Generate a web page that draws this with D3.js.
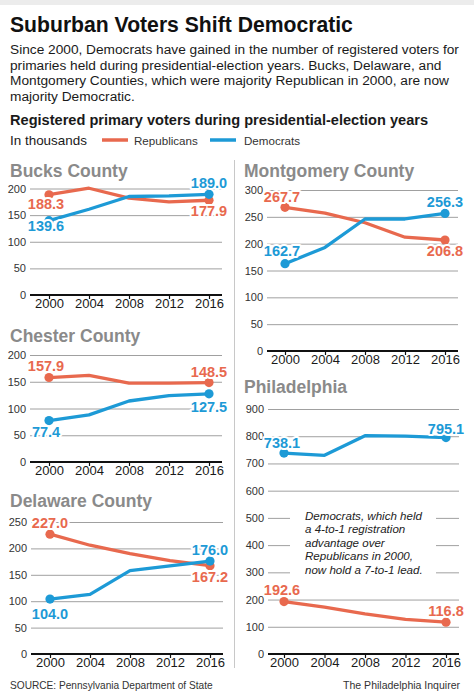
<!DOCTYPE html>
<html>
<head>
<meta charset="utf-8">
<script src="https://cdn.jsdelivr.net/npm/d3@7"></script>
<style>
  html, body { margin: 0; padding: 0; background: #fff; }
  svg { display: block; font-family: "Liberation Sans", Arial, Helvetica, sans-serif; }
</style>
</head>
<body>
<svg id="chart" width="474" height="695"></svg>
<script>
// ---------- DATA ----------
const years = [2000, 2004, 2008, 2012, 2016];
const countyNames = ["Bucks County", "Montgomery County", "Chester County", "Delaware County", "Philadelphia"];
const bucksRep = [188.3, 200.5, 182, 175, 177.9];
const bucksDem = [139.6, 161, 185, 186, 189.0];
const montgomeryRep = [267.7, 257, 239, 212, 206.8];
const montgomeryDem = [162.7, 193, 246, 246, 256.3];
const chesterRep = [157.9, 162, 147.5, 147.5, 148.5];
const chesterDem = [77.4, 88, 114, 124, 127.5];
const delawareRep = [227.0, 206, 190, 177, 167.2];
const delawareDem = [104.0, 113, 158, 167, 176.0];
const philadelphiaRep = [192.6, 172, 147, 127, 116.8];
const philadelphiaDem = [738.1, 730, 802, 800, 795.1];
const yTicksSmall = [0, 50, 100, 150, 200];
const yTicksMont = [0, 50, 100, 150, 200, 250, 300];
const yTicksDel = [0, 50, 100, 150, 200, 250];
const yTicksPhil = [0, 100, 200, 300, 400, 500, 600, 700, 800, 900];
const seriesNames = ["Republicans", "Democrats"];

const titleText = "Suburban Voters Shift Democratic";
const introLines = [
  "Since 2000, Democrats have gained in the number of registered voters for",
  "primaries held during presidential-election years. Bucks, Delaware, and",
  "Montgomery Counties, which were majority Republican in 2000, are now",
  "majority Democratic."
];
const subTitle = "Registered primary voters during presidential-election years";
const unitText = "In thousands";
const noteLines = ["Democrats, which held", "a 4-to-1 registration", "advantage over", "Republicans in 2000,", "now hold a 7-to-1 lead."];
const sourceText = "SOURCE: Pennsylvania Department of State";
const creditText = "The Philadelphia Inquirer";

// ---------- STYLE / LAYOUT ----------
const RED = "#e8694e", BLUE = "#1d9ad6";
const svg = d3.select("#chart");

// scale a text's font size so that its rendered width matches the target width
function fit(sel, target, measureNode) {
  const node = measureNode || sel.node();
  const fs = parseFloat(sel.attr("font-size"));
  const w = node.getComputedTextLength();
  if (w > 0) sel.attr("font-size", (fs * target / w).toFixed(2));
  return sel;
}

const layout = [
  {rep: bucksRep, dem: bucksDem, ticks: yTicksSmall, x: [49, 209], y: [295, 188.5], g: [30, 222], t: [10, 177],
   sx: -3, dy: {rep: [14, 16], dem: [10, -6]}},
  {rep: montgomeryRep, dem: montgomeryDem, ticks: yTicksMont, x: [285, 445], y: [351, 190], g: [267, 458], t: [244, 177],
   sx: -3, dy: {rep: [-5, 16], dem: [-8, -6]}},
  {rep: chesterRep, dem: chesterDem, ticks: yTicksSmall, x: [49, 209], y: [462, 355], g: [30, 222], t: [10, 342],
   sx: -3, dy: {rep: [-7, -6], dem: [16, 18]}},
  {rep: delawareRep, dem: delawareDem, ticks: yTicksDel, x: [50, 210], y: [654, 522], g: [31, 223], t: [10, 507],
   sx: 0, dy: {rep: [-6, 16], dem: [20, -6]}},
  {rep: philadelphiaRep, dem: philadelphiaDem, ticks: yTicksPhil, x: [284, 446], y: [654, 409], g: [268, 459], t: [244, 393],
   sx: -2, dy: {rep: [-7, -6], dem: [-5, -4]}}
];

// top shade
svg.append("rect").attr("x", 0).attr("y", 0).attr("width", 474).attr("height", 5).attr("fill", "#ececec");

// header
fit(svg.append("text").attr("x", 10).attr("y", 32).attr("font-size", 21).attr("font-weight", "bold")
  .attr("fill", "#111").text(titleText), 343);
const intro = svg.append("text").attr("font-size", 14).attr("fill", "#1a1a1a");
intro.selectAll("tspan").data(introLines).join("tspan")
  .attr("x", 10).attr("y", (d, i) => 54 + i * 15.7).text(d => d);
fit(intro, 449, intro.select("tspan").node());
fit(svg.append("text").attr("x", 10).attr("y", 125).attr("font-size", 14.6).attr("font-weight", "bold")
  .attr("fill", "#1a1a1a").text(subTitle), 418);
fit(svg.append("text").attr("x", 10).attr("y", 145).attr("font-size", 13.4).attr("fill", "#1a1a1a").text(unitText), 77);

// legend
const legendX = [[102, 128, 134], [210, 236, 244]];
[RED, BLUE].forEach((c, i) => {
  svg.append("line").attr("x1", legendX[i][0]).attr("x2", legendX[i][1]).attr("y1", 140).attr("y2", 140)
    .attr("stroke", c).attr("stroke-width", 3.5);
  svg.append("text").attr("x", legendX[i][2]).attr("y", 145).attr("font-size", 11.6).attr("fill", "#333")
    .text(seriesNames[i]);
});

// separator
svg.append("line").attr("x1", 234.5).attr("x2", 234.5).attr("y1", 160).attr("y2", 668)
  .attr("stroke", "#c8c8c8").attr("stroke-width", 1);

// panels
layout.forEach((p, idx) => {
  const g = svg.append("g");
  const x = d3.scalePoint().domain(years).range(p.x);
  const y = d3.scaleLinear().domain([0, d3.max(p.ticks)]).range(p.y);

  // title
  g.append("text").attr("x", p.t[0]).attr("y", p.t[1]).attr("font-size", 17.5).attr("font-weight", "bold")
    .attr("fill", "#8a8a8a").text(countyNames[idx]);

  // grid + y labels
  const ya = d3.axisLeft(y).tickValues(p.ticks).tickSize(-(p.g[1] - p.g[0])).tickPadding(4).tickFormat(d3.format("d"));
  const yg = g.append("g").attr("transform", `translate(${p.g[0]},0)`).call(ya);
  yg.select(".domain").remove();
  yg.selectAll(".tick line").attr("stroke", "#a0a0a0").attr("stroke-width", 1);
  yg.selectAll(".tick text").attr("font-size", 11).attr("fill", "#333").attr("font-family", null);

  // annotation box for Philadelphia
  if (idx === 4) {
    g.append("rect").attr("x", 290).attr("y", 506).attr("width", 146).attr("height", 72).attr("fill", "#fff");
    const note = g.append("text").attr("font-size", 12.6).attr("font-style", "italic").attr("fill", "#222");
    note.selectAll("tspan").data(noteLines).join("tspan")
      .attr("x", 305).attr("y", (d, i) => 519.5 + i * 13.6).text(d => d);
    fit(note, 117, note.select("tspan").node());
  }

  // zero axis
  const xa = d3.axisBottom(x).tickSize(4).tickFormat(d3.format("d"));
  const xg = g.append("g").attr("transform", `translate(0,${y(0)})`).call(xa);
  xg.select(".domain").remove();
  xg.selectAll(".tick line").attr("stroke", "#111").attr("stroke-width", 1.2);
  xg.selectAll(".tick text").attr("font-size", 13).attr("fill", "#1a1a1a").attr("font-family", null)
    .attr("y", 12.5).attr("dy", 0);
  g.append("line").attr("x1", p.g[0]).attr("x2", p.g[1]).attr("y1", y(0)).attr("y2", y(0))
    .attr("stroke", "#111").attr("stroke-width", 2.2);

  const line = d3.line().x((d, i) => x(years[i])).y(d => y(d));
  const series = [{vals: p.rep, color: RED, dy: p.dy.rep}, {vals: p.dem, color: BLUE, dy: p.dy.dem}];

  series.forEach(s => {
    g.append("path").datum(s.vals).attr("d", line).attr("fill", "none").attr("stroke", s.color)
      .attr("stroke-width", 3.3).attr("stroke-linejoin", "round").attr("stroke-linecap", "round");
  });
  series.forEach(s => {
    const ends = [0, s.vals.length - 1];
    g.selectAll(null).data(ends).join("circle")
      .attr("cx", i => x(years[i])).attr("cy", i => y(s.vals[i])).attr("r", 4.6).attr("fill", s.color);
  });
  series.forEach(s => {
    const ends = [0, s.vals.length - 1];
    g.selectAll(null).data(ends).join("text")
      .attr("x", (i, k) => x(years[i]) + (k === 0 ? p.sx : 0))
      .attr("y", (i, k) => y(s.vals[i]) + s.dy[k])
      .attr("text-anchor", "middle").attr("font-size", 14.5).attr("font-weight", "bold")
      .attr("fill", s.color).attr("stroke", "#fff").attr("stroke-width", 4).attr("stroke-linejoin", "round")
      .attr("paint-order", "stroke")
      .text(i => d3.format(".1f")(s.vals[i]));
  });
});

// footer
fit(svg.append("text").attr("x", 10).attr("y", 689).attr("font-size", 11).attr("fill", "#333").text(sourceText), 203);
fit(svg.append("text").attr("x", 460).attr("y", 689).attr("font-size", 11).attr("fill", "#333")
  .attr("text-anchor", "end").text(creditText), 117);
</script>
</body>
</html>
